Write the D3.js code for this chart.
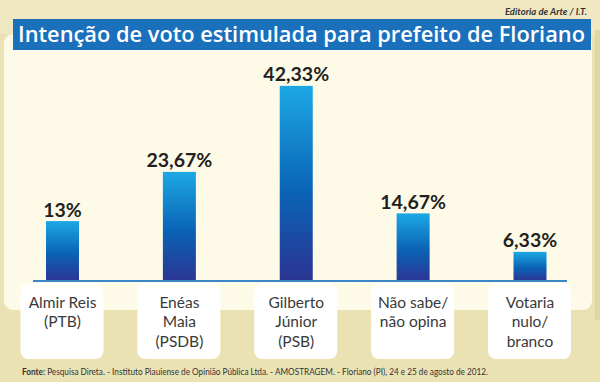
<!DOCTYPE html>
<html>
<head>
<meta charset="utf-8">
<script src="https://cdn.jsdelivr.net/npm/d3@7"></script>
<style>
html,body{margin:0;padding:0;background:#ece3b6;}
svg{display:block;}
</style>
</head>
<body>
<svg id="chart" width="600" height="382"></svg>
<script>
const categories = ["Almir Reis (PTB)", "Enéas Maia (PSDB)", "Gilberto Júnior (PSB)", "Não sabe/ não opina", "Votaria nulo/ branco"];
const labelLines = [["Almir Reis","(PTB)"],["Enéas","Maia","(PSDB)"],["Gilberto","Júnior","(PSB)"],["Não sabe/","não opina"],["Votaria","nulo/","branco"]];
const values = [13, 23.67, 42.33, 14.67, 6.33];
const valueLabels = ["13%", "23,67%", "42,33%", "14,67%", "6,33%"];
const title = "Intenção de voto estimulada para prefeito de Floriano";
const credit = "Editoria de Arte / I.T.";
const sourceBold = "Fonte:";
const sourceText = " Pesquisa Direta. - Instituto Piauiense de Opinião Pública Ltda. - AMOSTRAGEM. - Floriano (PI), 24 e 25 de agosto de 2012.";

const svg = d3.select("#chart");
const W = 600, H = 382;

// background
svg.append("rect").attr("width", W).attr("height", H).attr("fill", "#ebe2b3");
svg.append("rect").attr("x", 0).attr("y", 0).attr("width", W).attr("height", 34).attr("fill", "#efe8c2");
svg.append("rect").attr("x", 595).attr("y", 30).attr("width", 5).attr("height", 290).attr("fill", "#e2d7a0");

// cream panel
svg.append("rect").attr("x", 4).attr("y", 34).attr("width", 588).attr("height", 276)
  .attr("rx", 9).attr("fill", "#fdfae7");

// title banner
svg.append("rect").attr("x", 13).attr("y", 19).attr("width", 578).attr("height", 31).attr("fill", "#1b70bb");
svg.append("text").attr("x", 18).attr("y", 42)
  .attr("font-family", "'Open Sans', sans-serif").attr("font-weight", 600).attr("font-size", 21)
  .attr("fill", "#ffffff").attr("textLength", 567).attr("lengthAdjust", "spacingAndGlyphs")
  .text(title);

svg.append("text").attr("x", 587).attr("y", 15).attr("text-anchor", "end")
  .attr("font-family", "Lato, sans-serif").attr("font-weight", 700).attr("font-style", "italic")
  .attr("font-size", 9.5).attr("fill", "#333").text(credit);

// scales
const x = d3.scalePoint().domain(categories).range([62.5, 530]);
const y = d3.scaleLinear().domain([0, 50]).range([281, 281 - 230.5]);
const barW = 33;

// gradient
const defs = svg.append("defs");
const grad = defs.append("linearGradient").attr("id", "barGrad").attr("x1", 0).attr("y1", 0).attr("x2", 0).attr("y2", 1);
grad.append("stop").attr("offset", "0%").attr("stop-color", "#1ca8e4");
grad.append("stop").attr("offset", "55%").attr("stop-color", "#0a62b5");
grad.append("stop").attr("offset", "100%").attr("stop-color", "#2c3593");

// label boxes
const boxes = svg.append("g");
categories.forEach((c, i) => {
  const cx = x(c);
  boxes.append("rect").attr("x", cx - 42).attr("y", 283).attr("width", 83).attr("height", 76)
    .attr("rx", 8).attr("fill", "#ffffff");
  const t = boxes.append("text").attr("text-anchor", "middle")
    .attr("font-family", "Lato, sans-serif").attr("font-size", 15.5).attr("fill", "#3a3a3a");
  labelLines[i].forEach((ln, j) => {
    t.append("tspan").attr("x", cx).attr("y", 308 + j * 19.3).text(ln);
  });
});

// bars
svg.append("g").selectAll("rect").data(values).join("rect")
  .attr("x", (d, i) => x(categories[i]) - barW / 2)
  .attr("y", d => y(d))
  .attr("width", barW)
  .attr("height", d => y(0) - y(d))
  .attr("fill", "url(#barGrad)");

// baseline
svg.append("line").attr("x1", 33).attr("x2", 567).attr("y1", 281).attr("y2", 281)
  .attr("stroke", "#3b86c8").attr("stroke-width", 2);

// value labels
svg.append("g").selectAll("text").data(values).join("text")
  .attr("x", (d, i) => x(categories[i]))
  .attr("y", d => y(d) - 4.5)
  .attr("text-anchor", "middle")
  .attr("font-family", "Lato, sans-serif").attr("font-weight", 700).attr("font-size", 19.5)
  .attr("fill", "#231f20")
  .text((d, i) => valueLabels[i]);

// source
const src = svg.append("text").attr("x", 22).attr("y", 375)
  .attr("font-family", "Lato, sans-serif").attr("font-size", 8.6).attr("fill", "#333")
  .attr("textLength", 466).attr("lengthAdjust", "spacingAndGlyphs");
src.append("tspan").attr("font-weight", 700).text(sourceBold);
src.append("tspan").text(sourceText);
</script>
</body>
</html>
